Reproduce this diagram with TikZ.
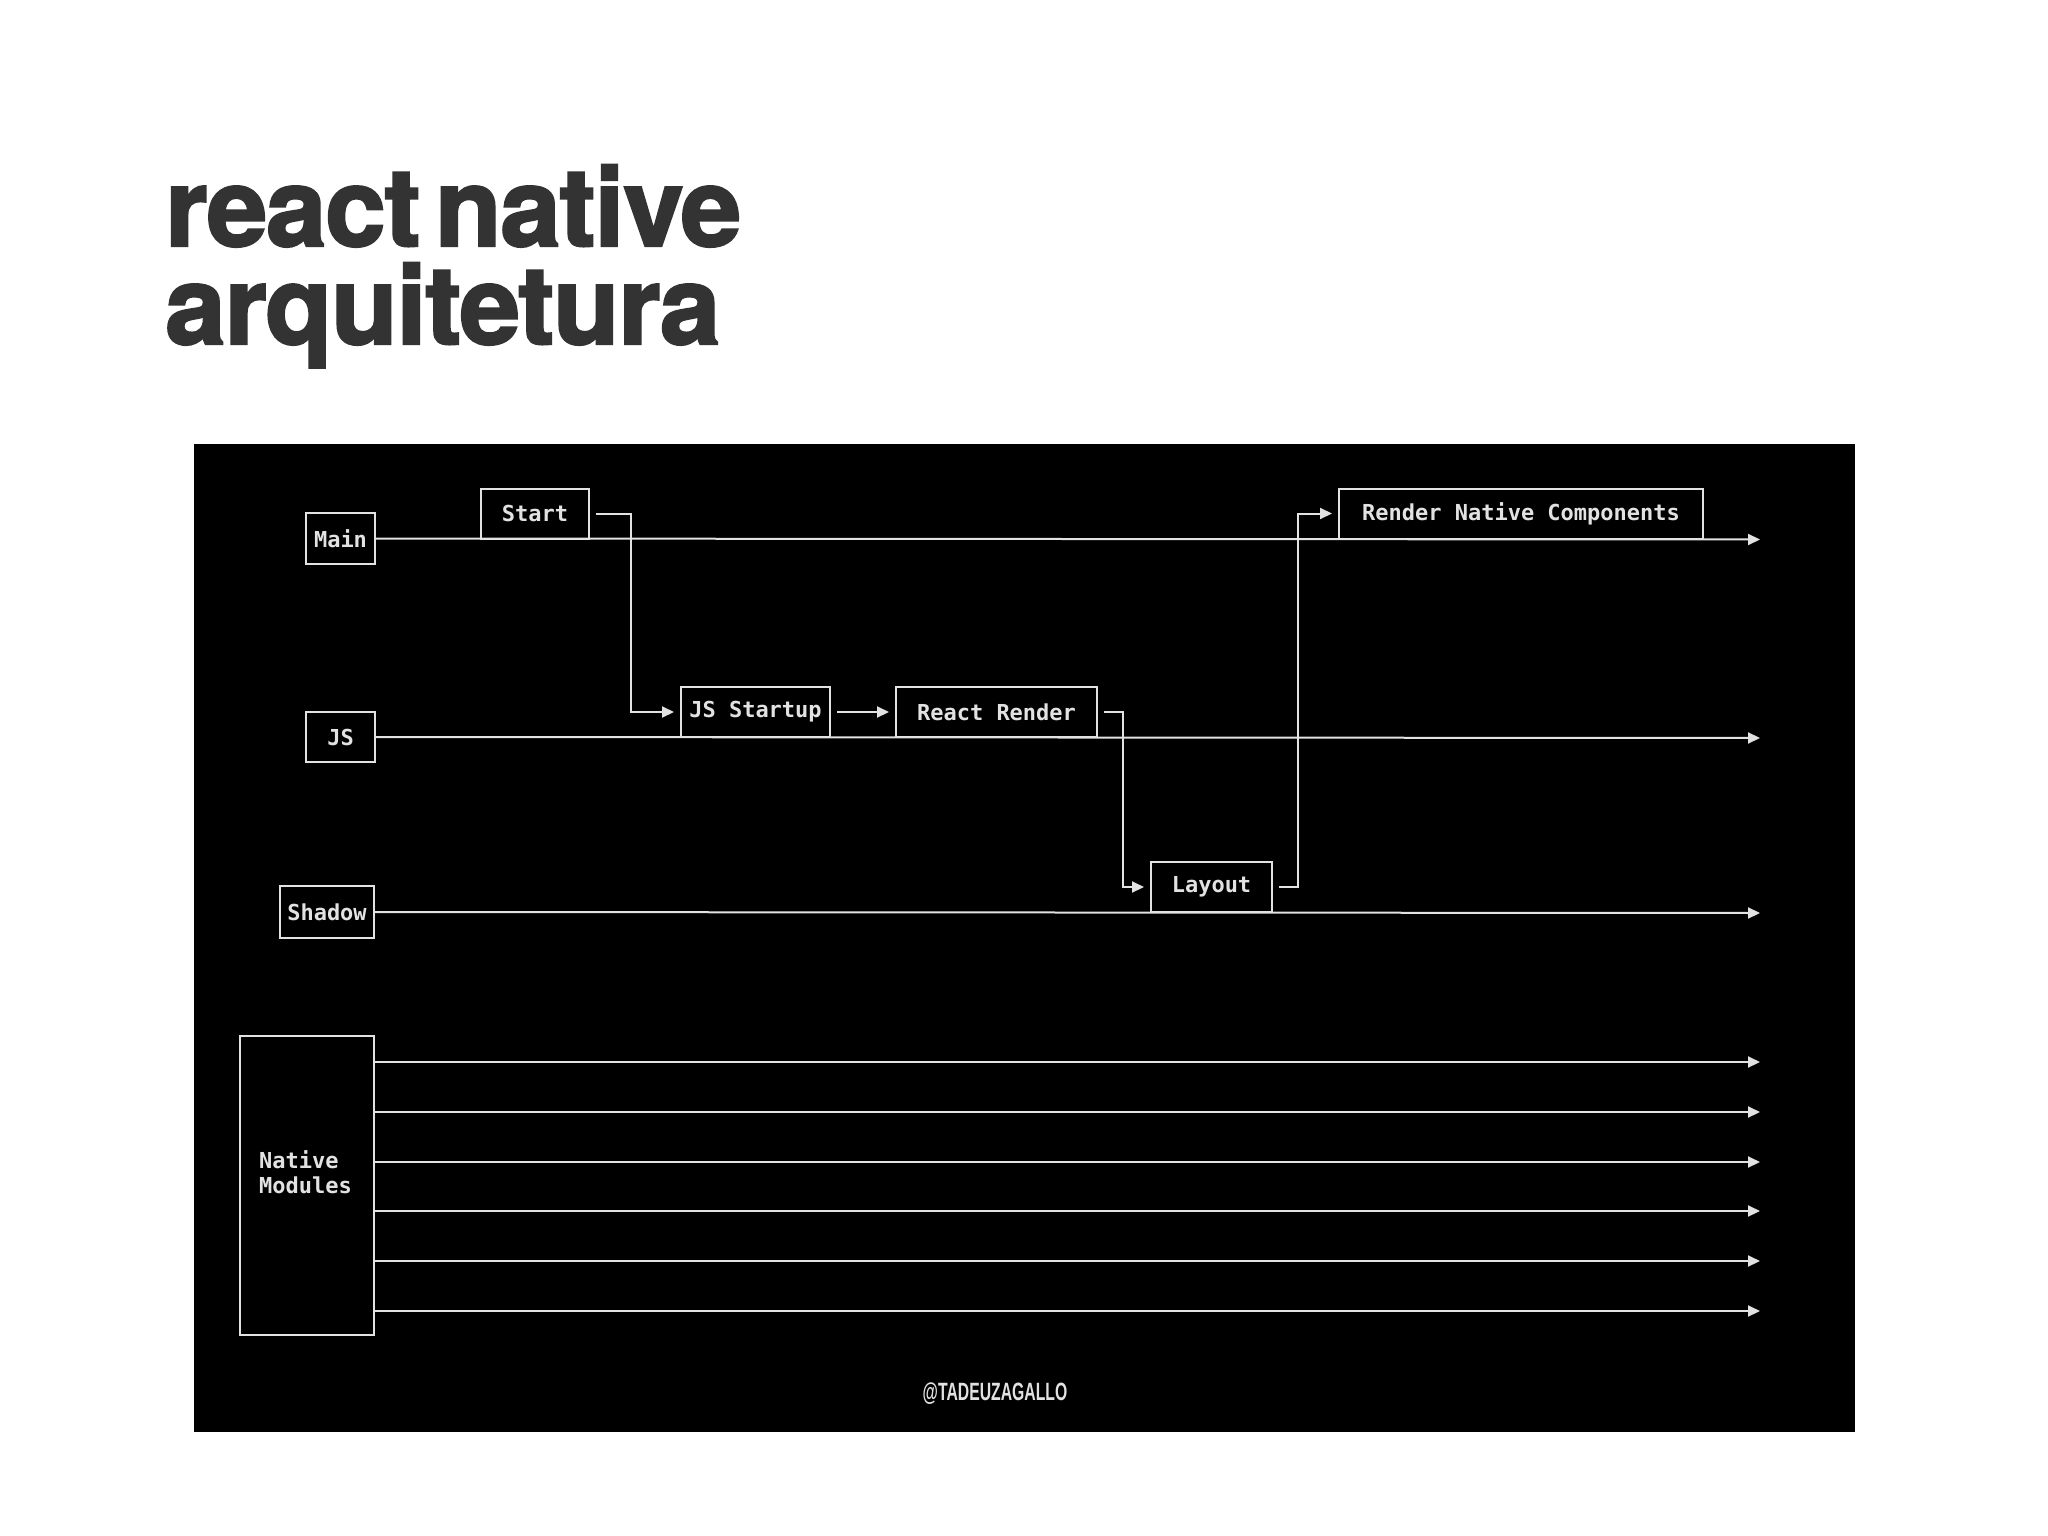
\documentclass[tikz,border=0pt]{standalone}
\usepackage{fontspec}
\usepackage{graphicx}
\usetikzlibrary{arrows.meta}
\newfontfamily\monofont{DejaVu Sans Mono}
\newfontfamily\titlefont{TeX Gyre Heros}[BoldFeatures={FakeBold=2},WordSpace=0.5,LetterSpace=-1.3]
\newfontfamily\markfont{Liberation Sans}
\definecolor{titlegray}{HTML}{333333}
\definecolor{panel}{HTML}{000000}
\definecolor{ink}{HTML}{E2E2E2}
\tikzset{
  lbl/.style={font=\monofont\bfseries\fontsize{22}{26}\selectfont, text=ink},
  stepbox/.style={draw=ink, line width=2pt, inner sep=0pt, lbl, anchor=south west},
  lane/.style={draw=ink, line width=2pt, -{Triangle[length=12pt,width=11pt]}},
  conn/.style={draw=ink, line width=2pt, -{Triangle[length=12pt,width=11pt]}, shorten <=6pt, shorten >=6pt},
  titletxt/.style={font=\titlefont\bfseries\fontsize{109}{98}\selectfont, text=titlegray, inner sep=0pt, anchor=base west}
}
\begin{document}
\begin{tikzpicture}[x=1pt,y=-1pt]
  \useasboundingbox (0,0) rectangle (2048,1536);
  \fill[white] (0,0) rectangle (2048,1536);
  % title
  \node[titletxt] (t1) at (165,246) {react native};
  \node[titletxt] (t2) at (165,344) {arquitetura};
  % panel
  \fill[panel] (194,444) rectangle (1855,1432);
  % lane labels
  \node[stepbox, minimum width=69pt, minimum height=51pt] (main) at (305,565) {Main};
  \node[stepbox, minimum width=69pt, minimum height=50pt] (js) at (305,763) {JS};
  \node[stepbox, minimum width=94pt, minimum height=52pt] (shadow) at (279,939) {Shadow};
  \node[stepbox, minimum width=134pt, minimum height=299pt] (nm) at (239,1336) {};
  \node[lbl, anchor=base west, inner sep=0pt] (nm1) at (259,1168) {Native};
  \node[lbl, anchor=base west, inner sep=0pt] (nm2) at (259,1193) {Modules};
  % lane ends
  \coordinate (mainend) at (1760,539.5);
  \coordinate (jsend) at (1760,738);
  \coordinate (shend) at (1760,913);
  \coordinate (n1) at (1760,1062);
  \coordinate (n2) at (1760,1112);
  \coordinate (n3) at (1760,1162);
  \coordinate (n4) at (1760,1211);
  \coordinate (n5) at (1760,1261);
  \coordinate (n6) at (1760,1311);
  \draw[lane] (main.east) -- (mainend);
  \draw[lane] (js.east) -- (jsend);
  \draw[lane] (shadow.east) -- (shend);
  \foreach \e in {n1,n2,n3,n4,n5,n6}{
    \draw[lane] (nm.east |- \e) -- (\e);
  }
  % step boxes
  \node[stepbox, minimum width=108pt, minimum height=50pt] (start) at (480,539.5) {Start};
  \node[stepbox, minimum width=149pt, minimum height=50pt] (jss) at (680,738) {JS Startup};
  \node[stepbox, minimum width=201pt, minimum height=50pt] (rr) at (895,738) {React Render};
  \node[stepbox, minimum width=121pt, minimum height=50pt] (layout) at (1150,913) {Layout};
  \node[stepbox, minimum width=364pt, minimum height=50pt] (rnc) at (1338,539.5) {Render Native Components};
  % connectors
  \draw[conn] (start.east) -- ++(41,0) |- (jss.west);
  \draw[conn] (jss.east) -- (rr.west);
  \draw[conn] (rr.east) -- ++(25,0) |- (layout.west);
  \draw[conn] (layout.east) -- ++(25,0) |- (rnc.west);
  % watermark
  \node[text=ink, inner sep=0pt] (mark) at (995,1394) {\scalebox{0.63}[1]{\markfont\bfseries\fontsize{25}{30}\selectfont @TADEUZAGALLO}};
\end{tikzpicture}
\end{document}
